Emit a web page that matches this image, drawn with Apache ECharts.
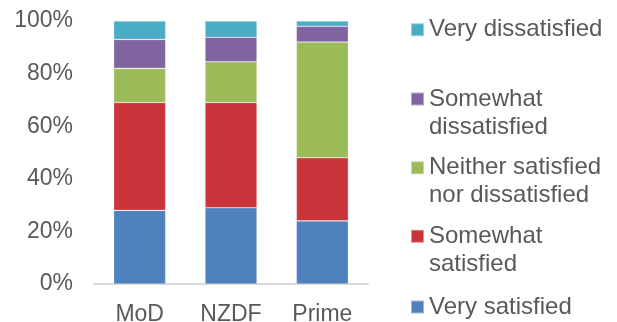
<!DOCTYPE html>
<html>
<head>
<meta charset="utf-8">
<script src="https://cdn.jsdelivr.net/npm/echarts@6/dist/echarts.min.js"></script>
<style>
  html, body { margin: 0; padding: 0; background: #fff; }
  #chart { width: 617px; height: 322px; }
</style>
</head>
<body>
<div id="chart"></div>
<script>
const categories = ['MoD', 'NZDF', 'Prime']
const seriesNames = ['Very satisfied', 'Somewhat satisfied', 'Neither satisfied nor dissatisfied', 'Somewhat dissatisfied', 'Very dissatisfied']
const verySatisfied = [28, 29, 24]
const somewhatSatisfied = [41, 40, 24]
const neither = [13, 15.5, 44]
const somewhatDissatisfied = [11, 9.3, 6]
const veryDissatisfied = [7, 6.2, 2]
const yTicks = [0, 20, 40, 60, 80, 100]

const seriesValues = [verySatisfied, somewhatSatisfied, neither, somewhatDissatisfied, veryDissatisfied]
const colors = ['#4f81bd', '#c9343a', '#9bbb59', '#8064a2', '#4bacc6']
const wrapped = {
    'Somewhat satisfied': 'Somewhat\nsatisfied',
    'Neither satisfied nor dissatisfied': 'Neither satisfied\nnor dissatisfied',
    'Somewhat dissatisfied': 'Somewhat\ndissatisfied'
}
const textColor = '#595959'
const font = 'Arial, "Liberation Sans", sans-serif'

// legend entries listed top to bottom, first-line centre y in px
const legendCentres = [29.7, 99, 167.8, 236.3, 307]
const legendOrder = seriesNames.slice().reverse()

// two-line names get an empty line on top so the icon sits on the first line
const legends = legendOrder.map((name, i) => {
    const twoLine = !!wrapped[name]
    return {
        data: [name],
        left: 410,
        top: legendCentres[i] - (twoLine ? 42 : 14),
        padding: 0,
        icon: 'rect',
        itemWidth: 13,
        itemHeight: 13,
        selectedMode: false,
        formatter: (n) => wrapped[n] ? ' \n' + wrapped[n] : n,
        textStyle: {
            color: textColor,
            fontSize: 24,
            fontFamily: font,
            lineHeight: 28
        }
    }
})

const chart = echarts.init(document.getElementById('chart'), null, { renderer: 'canvas' })

chart.setOption({
    animation: false,
    color: colors,
    legend: legends,
    grid: {
        left: 94,
        right: 249,
        top: 21,
        bottom: 38,
        containLabel: false,
        outerBoundsMode: 'none'
    },
    xAxis: {
        type: 'category',
        data: categories,
        axisTick: { show: false },
        axisLine: { lineStyle: { color: '#d9d9d9', width: 2 } },
        axisLabel: {
            color: textColor,
            fontSize: 23,
            fontFamily: font,
            margin: 19
        }
    },
    yAxis: {
        type: 'value',
        min: yTicks[0],
        max: yTicks[yTicks.length - 1],
        interval: 20,
        splitLine: { show: false },
        axisLine: { show: false },
        axisTick: { show: false },
        axisLabel: {
            color: textColor,
            fontSize: 23,
            fontFamily: font,
            margin: 21,
            formatter: '{value}%'
        }
    },
    series: seriesNames.map((name, i) => ({
        name: name,
        type: 'bar',
        stack: 'total',
        barWidth: 52,
        data: seriesValues[i],
        itemStyle: {
            color: colors[i],
            borderColor: 'rgba(255,255,255,0.45)',
            borderWidth: 0.6
        }
    }))
})
</script>
</body>
</html>
